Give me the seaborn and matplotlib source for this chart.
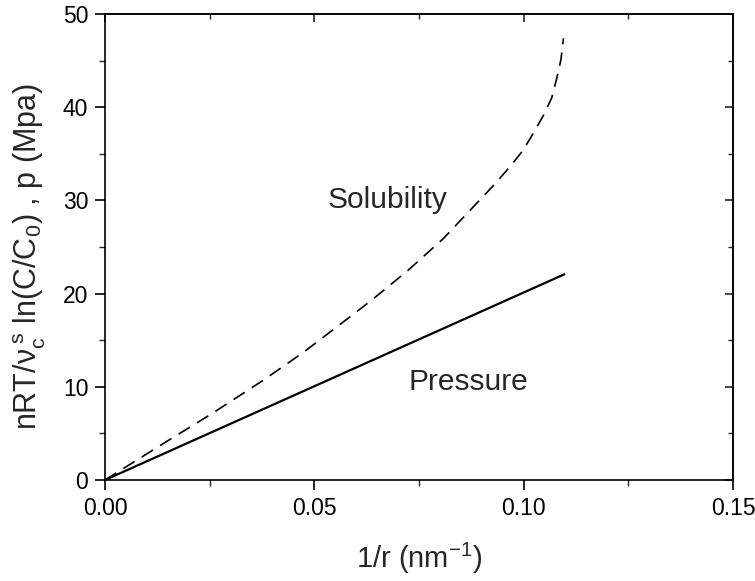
import matplotlib
matplotlib.use("Agg")
import matplotlib.pyplot as plt
import seaborn as sns
import pandas as pd
from matplotlib.ticker import MultipleLocator

# Data
pressure_x = [0.0, 0.1097]
pressure_y = [0.0, 22.07]

solub_x = [0.0, 0.0139, 0.0258, 0.0378, 0.0474, 0.0553, 0.0637, 0.0724, 0.0808, 0.0888,
           0.0932, 0.0967, 0.0999, 0.1023, 0.1047, 0.1067, 0.1079, 0.1089, 0.1095]
solub_y = [0.0, 3.9, 7.2, 10.7, 13.7, 16.4, 19.3, 22.5, 25.9, 29.7,
           31.8, 33.6, 35.4, 37.2, 39.1, 41.0, 43.1, 45.1, 47.4]

x_ticks = [0.00, 0.05, 0.10, 0.15]
x_ticklabels = ["0.00", "0.05", "0.10", "0.15"]
y_ticks = [0, 10, 20, 30, 40, 50]

sns.set_theme(style="ticks")
plt.rcParams['font.family'] = ['Liberation Sans', 'DejaVu Sans']
plt.rcParams['mathtext.fontset'] = 'custom'
plt.rcParams['mathtext.rm'] = 'Liberation Sans'
plt.rcParams['mathtext.it'] = 'Liberation Sans'
plt.rcParams['mathtext.default'] = 'regular'

fig = plt.figure(figsize=(7.55, 5.81), dpi=100)
ax = fig.add_axes([105/755, 1 - 480/581, (733-105)/755, (480-14)/581])

df_p = pd.DataFrame({"x": pressure_x, "y": pressure_y})
df_s = pd.DataFrame({"x": solub_x, "y": solub_y})
sns.lineplot(data=df_p, x="x", y="y", ax=ax, color="black", lw=1.6, sort=False)
sns.lineplot(data=df_s, x="x", y="y", ax=ax, color="black", lw=1.2, sort=False,
             linestyle=(0, (8, 5)))

ax.set_xlim(0, 0.15)
ax.set_ylim(0, 50)
ax.set_xticks(x_ticks)
ax.set_xticklabels(x_ticklabels)
ax.set_yticks(y_ticks)
ax.xaxis.set_minor_locator(MultipleLocator(0.025))
ax.yaxis.set_minor_locator(MultipleLocator(5))

for s in ax.spines.values():
    s.set_linewidth(1.2)
    s.set_color("black")

ax.tick_params(which="major", direction="out", length=7, width=1.2, labelsize=16.5,
               colors="black", top=False, right=False, pad=5)
ax.tick_params(which="minor", direction="out", length=4, width=1.0,
               top=False, right=False)
# inward ticks on top/right
ax2 = ax.secondary_xaxis('top')
ax2.set_xticks(x_ticks)
ax2.xaxis.set_minor_locator(MultipleLocator(0.025))
ax2.tick_params(which="major", direction="in", length=6, width=1.2, labeltop=False)
ax2.tick_params(which="minor", direction="in", length=3.5, width=1.0)
ax2.set_xticklabels([])
ay2 = ax.secondary_yaxis('right')
ay2.set_yticks(y_ticks)
ay2.yaxis.set_minor_locator(MultipleLocator(5))
ay2.tick_params(which="major", direction="in", length=6, width=1.2)
ay2.tick_params(which="minor", direction="in", length=3.5, width=1.0)
ay2.set_yticklabels([])

ax.set_xlabel(r'1/r (nm$^{-1}$)', fontsize=21, labelpad=15)
ax.set_ylabel(r'nRT/$\nu_c^{\;s}$ ln(C/C$_0$) , p (Mpa)', fontsize=22)
ax.yaxis.set_label_coords(-0.09, 0.48)

ax.text(0.0676, 29.2, "Solubility", fontsize=21.5, ha="center", va="baseline")
ax.text(0.0867, 9.66, "Pressure", fontsize=21.5, ha="center", va="baseline")

fig.savefig("out.png", dpi=100)
